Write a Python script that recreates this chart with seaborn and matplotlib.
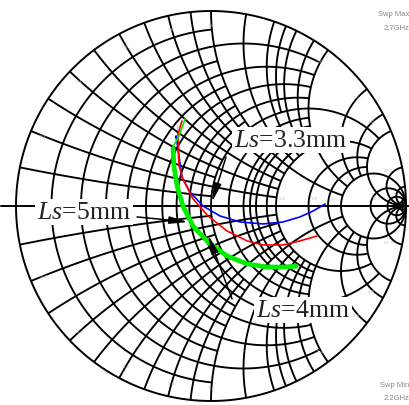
import numpy as np
import pandas as pd
import matplotlib
matplotlib.use("Agg")
import matplotlib.pyplot as plt
import seaborn as sns

# Reflection-coefficient traces (real, imaginary), 2.2 GHz -> 2.7 GHz
blue_re = [-0.174, -0.179, -0.174, -0.149, -0.108, -0.041, 0.046, 0.149, 0.267, 0.369, 0.456, 0.523, 0.585]
blue_im = [0.421, 0.359, 0.241, 0.149, 0.072, 0.000, -0.051, -0.082, -0.092, -0.082, -0.056, -0.026, 0.010]

red_re = [-0.149, -0.169, -0.164, -0.144, -0.092, -0.015, 0.082, 0.185, 0.267, 0.369, 0.456, 0.544]
red_im = [0.436, 0.369, 0.205, 0.138, 0.036, -0.051, -0.128, -0.179, -0.200, -0.200, -0.179, -0.154]

green_re = [-0.133, -0.164, -0.195, -0.190, -0.174, -0.144, -0.092, -0.015, 0.082, 0.185, 0.287, 0.369, 0.446]
green_im = [0.446, 0.359, 0.303, 0.205, 0.103, 0.000, -0.103, -0.185, -0.256, -0.297, -0.313, -0.313, -0.308]
green_thin_end = 3  # first points drawn with the thin pen

# Smith-chart grid values (normalised resistance / reactance)
grid_values = [0.1, 0.2, 0.3, 0.4, 0.5, 0.6, 0.7, 0.8, 0.9, 1.0,
               1.2, 1.4, 1.5, 1.6, 1.8, 2.0, 3.0, 4.0, 5.0,
               10.0, 20.0, 50.0]
edge_labels = [0.2, 0.4, 0.6, 0.8, 1.0, 2.0, 3.0, 4.0, 10.0]
axis_labels = [2.0, 3.0, 4.0, 10.0]

labels = ["3.3mm", "5mm", "4mm"]
label_pos = [(0.410, 0.338), (-0.651, -0.031), (0.472, -0.533)]
arrow_tail = [(0.077, 0.251), (-0.379, -0.056), (0.108, -0.477)]
arrow_tip = [(0.005, 0.021), (-0.118, -0.082), (-0.015, -0.149)]

sns.set_theme(style="white")
plt.rcParams["font.family"] = ["Liberation Serif", "DejaVu Serif"]
plt.rcParams["mathtext.fontset"] = "custom"
plt.rcParams["mathtext.it"] = "Liberation Serif:italic"
plt.rcParams["mathtext.rm"] = "Liberation Serif"

fig = plt.figure(figsize=(4.09, 4.06), dpi=100)
ax = fig.add_axes([0, 0, 1, 1])
ax.set_xlim(-211 / 195, (409 - 211) / 195)
ax.set_ylim((207 - 406) / 195, 207 / 195)
ax.set_axis_off()

# Segmented grid: the spacing gets coarser as max(r, |x|) grows
EDGES = [1.0, 2.0, 5.0]
LEVEL_SETS = [None, None, (0.5, 1.0, 1.5, 2.0, 3.0, 4.0, 5.0), (5.0, 10.0, 20.0, 50.0)]


def level(m):
    return sum(m >= e - 1e-9 for e in EDGES)


def on_grid(v, lev):
    if lev == 0:
        return abs(v * 10 - round(v * 10)) < 1e-6
    if lev == 1:
        return abs(v * 5 - round(v * 5)) < 1e-6
    return any(abs(v - c) < 1e-6 for c in LEVEL_SETS[lev])


def extent(v):
    for lev in range(level(v), 4):
        if not on_grid(v, lev):
            return EDGES[lev - 1]
    return np.inf


def gamma(z):
    return (z - 1) / (z + 1)


lw_grid = 1.35
for v in grid_values:
    ext = extent(v)
    # resistance circle r = v for |x| <= ext
    u = np.linspace(-np.arctan(ext), np.arctan(ext), 700)
    u = np.clip(u, -np.pi / 2 + 1e-7, np.pi / 2 - 1e-7)
    g = gamma(v + 1j * np.tan(u))
    ax.plot(g.real, g.imag, color="black", lw=lw_grid, solid_capstyle="butt")
    # reactance arcs x = +/- v for r <= ext
    u = np.linspace(0, min(np.arctan(ext), np.pi / 2 - 1e-7), 500)
    for s in (1, -1):
        g = gamma(np.tan(u) + 1j * s * v)
        ax.plot(g.real, g.imag, color="black", lw=lw_grid, solid_capstyle="butt")

t = np.linspace(0, 2 * np.pi, 800)
ax.plot(np.cos(t), np.sin(t), color="black", lw=1.4)
ax.plot([-1.075, 1.02], [0, 0], color="black", lw=1.4)

# faint scale labels
for v in edge_labels:
    for s in (1, -1):
        g = gamma(1j * s * v) * 0.93
        ax.text(g.real, g.imag, f"{s * v:.1f}", fontsize=3.2, color="#c4c4c4",
                ha="center", va="center", family="DejaVu Sans")
for v in axis_labels:
    g = gamma(v)
    ax.text(g.real + 0.03, 0.04, f"{v:.1f}", fontsize=3.2, color="#c4c4c4",
            ha="center", va="center", family="DejaVu Sans")

# traces
df_blue = pd.DataFrame({"re": blue_re, "im": blue_im})
df_red = pd.DataFrame({"re": red_re, "im": red_im})
df_green = pd.DataFrame({"re": green_re, "im": green_im})
sns.lineplot(data=df_blue, x="re", y="im", sort=False, color="#0000ff", lw=1.2, ax=ax)
sns.lineplot(data=df_red, x="re", y="im", sort=False, color="#ff0000", lw=1.2, ax=ax)
sns.lineplot(data=df_green.iloc[:green_thin_end], x="re", y="im", sort=False,
             color="#00ee00", lw=1.2, ax=ax)
sns.lineplot(data=df_green.iloc[green_thin_end - 1:], x="re", y="im", sort=False,
             color="#00ee00", lw=3.4, ax=ax, solid_capstyle="butt")
ax.set_axis_off()

# labels with arrows
for text, pos, tail, tip in zip(labels, label_pos, arrow_tail, arrow_tip):
    ax.annotate("", xy=tip, xytext=tail,
                arrowprops=dict(arrowstyle="-|>,head_length=1.1,head_width=0.22",
                                color="black", lw=1.1, shrinkA=0, shrinkB=0,
                                mutation_scale=10))
    ax.text(pos[0], pos[1], r"$\mathit{Ls}$=" + text, fontsize=18.5, color="#222222",
            ha="center", va="center",
            bbox=dict(facecolor="white", edgecolor="none", pad=1.5))

fig.text(1.0, 1 - 14 / 406, "Swp Max", fontsize=5.5, color="#8a8a8a",
         ha="right", va="center", family="Liberation Sans")
fig.text(1.0, 1 - 29 / 406, "2.7GHz", fontsize=5.5, color="#8a8a8a",
         ha="right", va="center", family="Liberation Sans")
fig.text(1.0, 1 - 386 / 406, "Swp Min", fontsize=5.5, color="#8a8a8a",
         ha="right", va="center", family="Liberation Sans")
fig.text(1.0, 1 - 399 / 406, "2.2GHz", fontsize=5.5, color="#8a8a8a",
         ha="right", va="center", family="Liberation Sans")

fig.savefig("out.png", dpi=100, facecolor="white")
